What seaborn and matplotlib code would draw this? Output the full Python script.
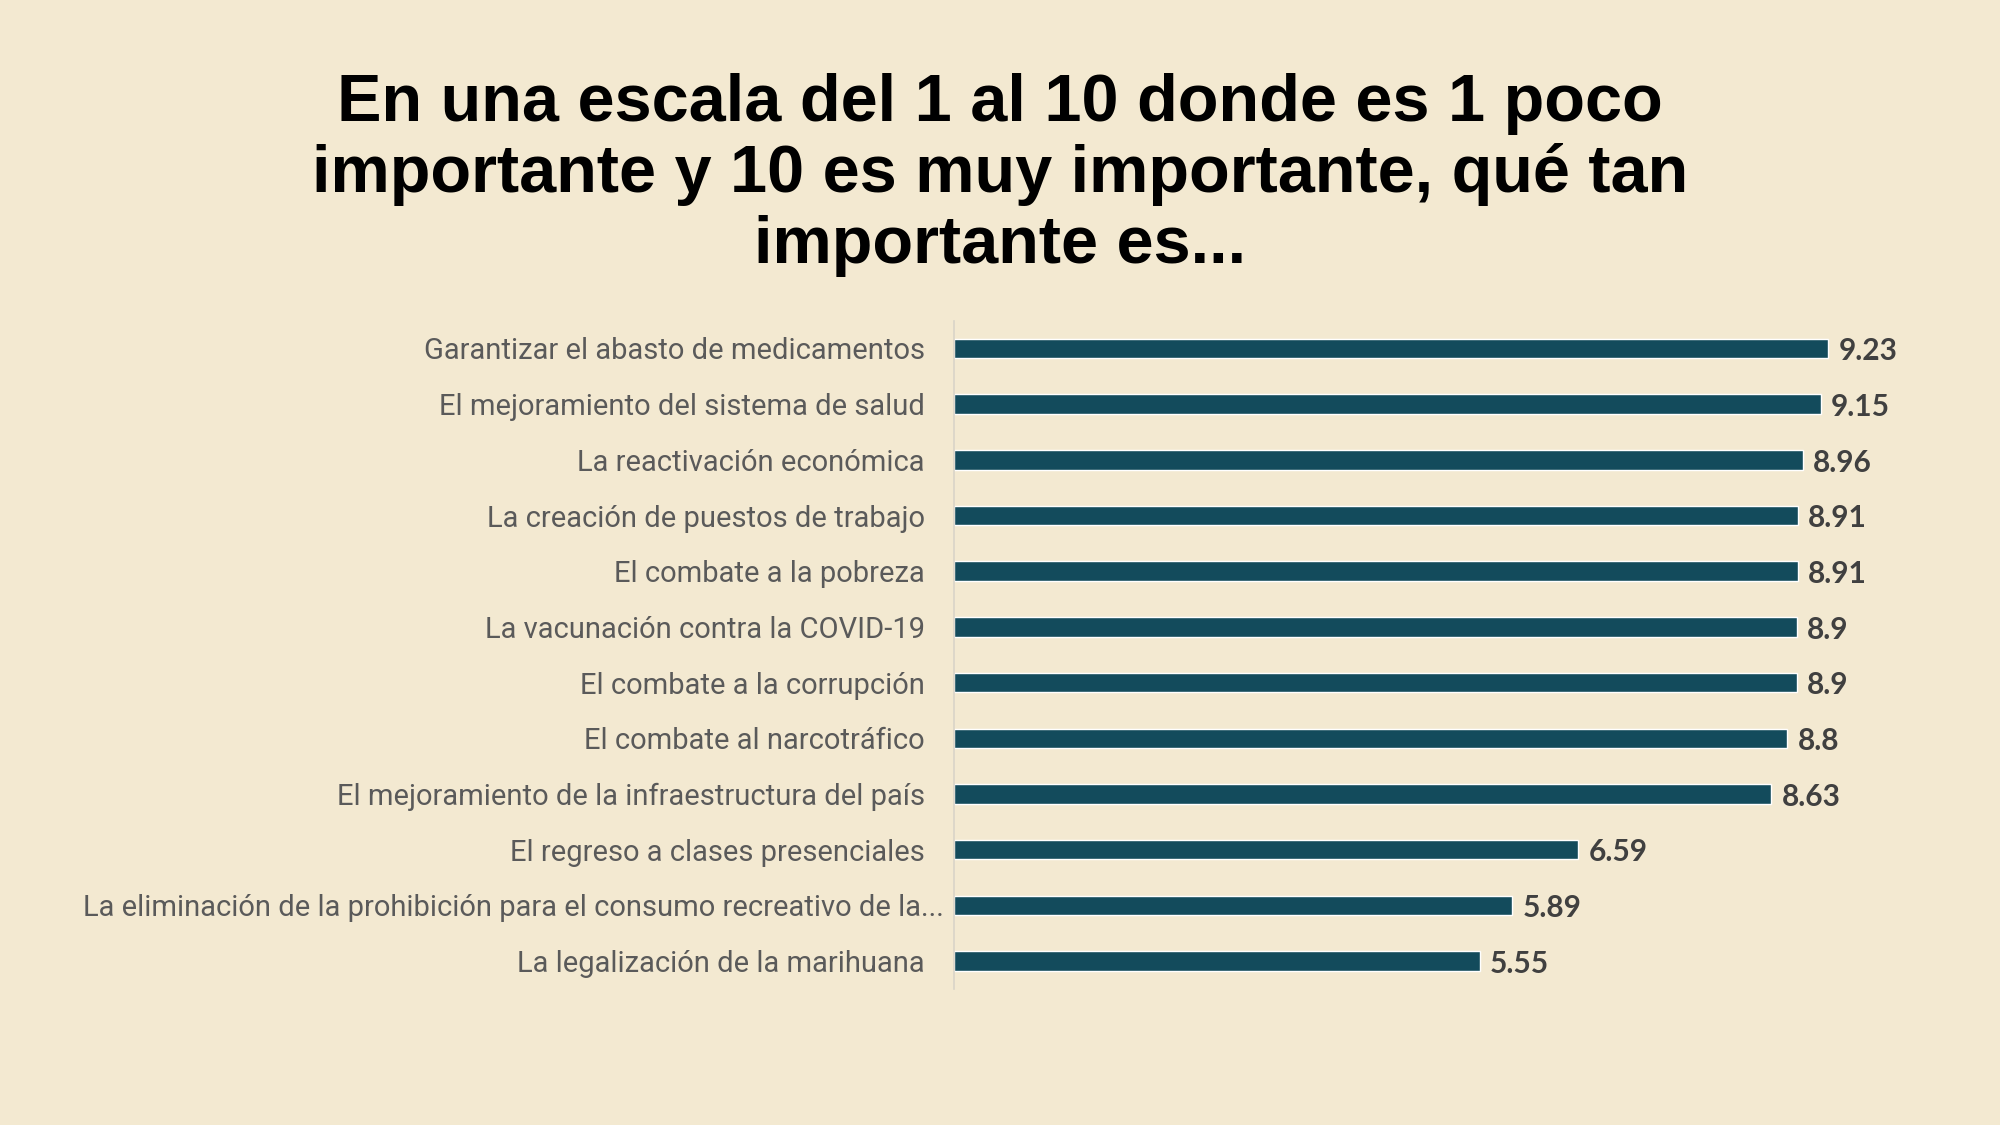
import matplotlib
matplotlib.use("Agg")
import pandas as pd
import matplotlib.pyplot as plt
import matplotlib.transforms as mtransforms
import seaborn as sns

# datos
temas = [
    "Garantizar el abasto de medicamentos",
    "El mejoramiento del sistema de salud",
    "La reactivación económica",
    "La creación de puestos de trabajo",
    "El combate a la pobreza",
    "La vacunación contra la COVID-19",
    "El combate a la corrupción",
    "El combate al narcotráfico",
    "El mejoramiento de la infraestructura del país",
    "El regreso a clases presenciales",
    "La eliminación de la prohibición para el consumo recreativo de la...",
    "La legalización de la marihuana",
]
calificacion = [9.23, 9.15, 8.96, 8.91, 8.91, 8.9, 8.9, 8.8, 8.63, 6.59, 5.89, 5.55]
etiquetas = ["9.23", "9.15", "8.96", "8.91", "8.91", "8.9", "8.9", "8.8", "8.63", "6.59", "5.89", "5.55"]

titulo = ("En una escala del 1 al 10 donde es 1 poco\n"
          "importante y 10 es muy importante, qué tan\n"
          "importante es...")

FONDO = "#F3E9D1"
BARRA = "#134B5C"

df = pd.DataFrame({"tema": temas, "valor": calificacion})

sns.set_theme(style="white")
plt.rcParams["font.family"] = ["Roboto", "DejaVu Sans"]

fig = plt.figure(figsize=(20, 11.25), dpi=100, facecolor=FONDO)
ax = fig.add_axes([0.477, 0.121, 0.4735, 0.594])
ax.set_facecolor(FONDO)

sns.barplot(data=df, x="valor", y="tema", orient="h", color=BARRA,
            width=0.35, saturation=1, ax=ax)

ax.set_xlim(0, 10)
ax.set_ylim(len(temas) - 0.5, -0.5)
ax.set_xlabel("")
ax.set_ylabel("")
ax.set_xticks([])

for sp in ["top", "right", "bottom"]:
    ax.spines[sp].set_visible(False)
ax.spines["left"].set_color("#D9D4C8")
ax.spines["left"].set_linewidth(1.2)

ax.tick_params(axis="y", length=0, pad=21, labelsize=21, labelcolor="#5A5A5A")
for lab in ax.get_yticklabels():
    lab.set_fontfamily(["Roboto", "DejaVu Sans"])
# la etiqueta larga queda un poco más a la derecha en el original
larga = ax.get_yticklabels()[10]
larga.set_transform(larga.get_transform() +
                    mtransforms.ScaledTranslation(19 / 100, 0, fig.dpi_scale_trans))

for i, (v, t) in enumerate(zip(calificacion, etiquetas)):
    ax.text(v + 0.11, i + 0.05, t, va="center", ha="left",
            fontsize=21.5, fontweight="bold", color="#404040",
            family=["Lato", "DejaVu Sans"])

fig.text(0.5, 0.935, titulo, ha="center", va="top", fontsize=48,
         fontweight="bold", color="black", linespacing=1.17,
         family=["Liberation Sans", "DejaVu Sans"])

fig.savefig("out.png", dpi=100, facecolor=FONDO)
